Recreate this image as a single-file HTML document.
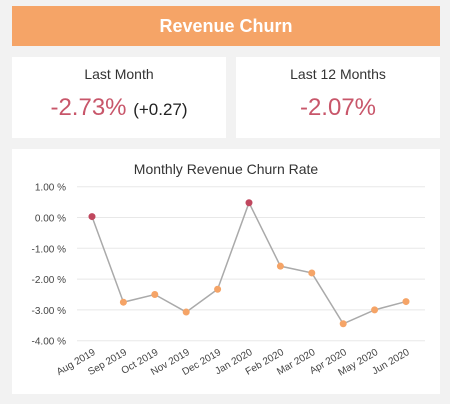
<!DOCTYPE html>
<html><head><meta charset="utf-8"><style>
body{margin:0;width:450px;height:404px;background:#f2f2f2;font-family:"Liberation Sans",sans-serif;position:relative;overflow:hidden}
.b{position:absolute;background:#fff}
.lbl{position:absolute;left:0;right:0;text-align:center;color:#333;font-size:14px}
.val{position:absolute;left:0;right:0;text-align:center;color:#c8566a;font-size:24px}
</style></head><body>
<div style="position:absolute;left:12px;top:6px;width:428px;height:40px;background:#f5a467;color:#fff;font-size:18px;font-weight:bold;text-align:center;line-height:40px">Revenue Churn</div>
<div class="b" style="left:12px;top:57px;width:214px;height:81px">
<div class="lbl" style="top:9px">Last Month</div>
<div class="val" style="top:37px">-2.73% <span style="color:#222;font-size:17px">(+0.27)</span></div></div>
<div class="b" style="left:236px;top:57px;width:204px;height:81px">
<div class="lbl" style="top:9px">Last 12 Months</div>
<div class="val" style="top:37px">-2.07%</div></div>
<div class="b" style="left:12px;top:149px;width:428px;height:245px"></div>
<svg id="c" width="450" height="404" style="position:absolute;left:0;top:0">
<text x="226" y="174" text-anchor="middle" font-size="14" fill="#333" font-family="Liberation Sans">Monthly Revenue Churn Rate</text>
</svg>
<script>
const categories=["Aug 2019","Sep 2019","Oct 2019","Nov 2019","Dec 2019","Jan 2020","Feb 2020","Mar 2020","Apr 2020","May 2020","Jun 2020"];
const values=[0.03,-2.75,-2.5,-3.07,-2.33,0.48,-1.58,-1.8,-3.45,-3.0,-2.73];
const ticks=[1,0,-1,-2,-3,-4];
const tickLabels=["1.00 %","0.00 %","-1.00 %","-2.00 %","-3.00 %","-4.00 %"];
const svg=document.getElementById('c');const NS='http://www.w3.org/2000/svg';
const y=v=>217.5-v*30.8;
const x=i=>92+i*31.4;
function mk(t,a){const e=document.createElementNS(NS,t);for(const k in a)e.setAttribute(k,a[k]);svg.appendChild(e);return e;}
ticks.forEach((t,i)=>{
const g=mk('line',{x1:77,x2:425,y1:y(t),y2:y(t),stroke:'#e8e8e8','stroke-width':1});


const l=mk('text',{x:66,y:y(t)+4,'text-anchor':'end','font-size':10,fill:'#444','font-family':'Liberation Sans'});
l.textContent=tickLabels[i];


});
const p=mk('polyline',{points:values.map((v,i)=>x(i)+','+y(v)).join(' '),fill:'none',stroke:'#aaa','stroke-width':1.5});


values.forEach((v,i)=>{
const c=mk('circle',{cx:x(i),cy:y(v),r:3.5,fill:v>=0?'#c0475e':'#f5a467'});


const t=mk('text',{x:x(i)+4,y:354,'text-anchor':'end','font-size':10,fill:'#444','font-family':'Liberation Sans',transform:`rotate(-30 ${x(i)+4} 354)`});
t.textContent=categories[i];


});
</script>
</body></html>
